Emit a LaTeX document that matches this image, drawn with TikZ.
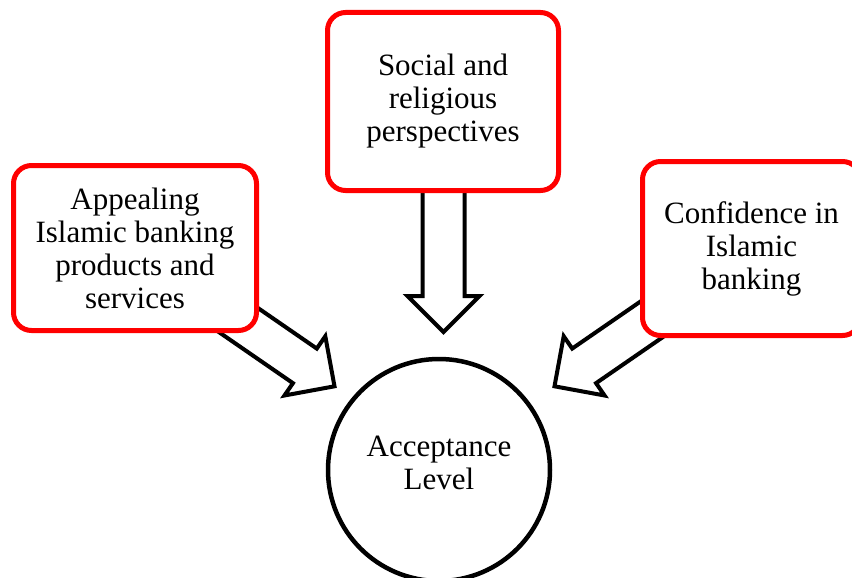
\documentclass[tikz,border=0pt]{standalone}
\usepackage{fontspec}
\setmainfont{Liberation Serif}
\usetikzlibrary{calc}
\tikzset{
  factor/.style={draw=red, line width=5pt, rounded corners=18pt, fill=white, align=center, inner sep=0pt, font=\fontsize{31}{33}\selectfont},
  blockarr/.style={draw=black, line width=4pt, fill=white, miter limit=10},
  accent/.style={circle, draw=black, line width=4.5pt, fill=white, inner sep=0pt, minimum size=222pt},
  lbl/.style={align=center, font=\fontsize{31}{33}\selectfont, inner sep=0pt}
}
\newcommand{\blockarrow}[2]{%
  \path ($(#2)!36pt!(#1)$) coordinate (bah);
  \draw[blockarr] (#2) -- ($(bah)!36pt!90:(#2)$) -- ($(bah)!21pt!90:(#2)$)
    -- ($(#1)!21pt!90:(bah)$) -- ($(#1)!21pt!-90:(bah)$)
    -- ($(bah)!21pt!-90:(#2)$) -- ($(bah)!36pt!-90:(#2)$) -- cycle;}
\begin{document}
\begin{tikzpicture}[x=1pt,y=-1pt]
\useasboundingbox (0,0) rectangle (852,578);
% acceptance circle
\node[accent] (acc) at (439,470) {};
\node[lbl] (acctext) at (439,463) {Acceptance\\Level};
% arrow end points
\coordinate (tailL) at (205,297);
\coordinate (tipL) at (334.5,386.3);
\coordinate (tailT) at (443.5,150);
\coordinate (tipT) at (443.5,332);
\coordinate (tailR) at (684,297);
\coordinate (tipR) at (554.5,386.3);
\blockarrow{tailL}{tipL}
\blockarrow{tailT}{tipT}
\blockarrow{tailR}{tipR}
% factor boxes
\node[factor, minimum width=243pt, minimum height=165pt] (appeal) at (135,248) {Appealing\\Islamic banking\\products and\\services};
\node[factor, minimum width=231pt, minimum height=178pt] (social) at (443,101.5) {Social and\\religious\\perspectives};
\node[factor, minimum width=218pt, minimum height=174pt] (conf) at (751.5,248.5) {Confidence in\\Islamic\\banking};
\end{tikzpicture}
\end{document}
